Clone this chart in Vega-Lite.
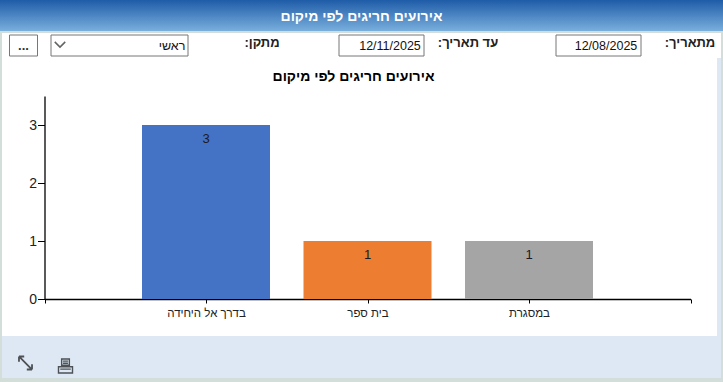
{"$schema":"https://vega.github.io/schema/vega-lite/v6.json","background":"#d3dedb","padding":{"left":0,"right":0,"top":0,"bottom":4},"autosize":{"type":"pad"},"config":{"view":{"stroke":null},"font":"Liberation Sans","concat":{"spacing":0}},"spacing":0,"vconcat":[{"width":723,"height":33,"view":{"fill":{"gradient":"linear","x1":0,"y1":0,"x2":0,"y2":1,"stops":[{"offset":0,"color":"#1f5ca8"},{"offset":0.93,"color":"#78aedc"},{"offset":0.94,"color":"#d3dedb"},{"offset":1,"color":"#d3dedb"}]}},"data":{"values":[{"heading":"אירועים חריגים לפי מיקום"}]},"mark":{"type":"text","color":"#ffffff","fontWeight":"bold","fontSize":14,"yOffset":0},"encoding":{"text":{"field":"heading"}}},{"spacing":1,"hconcat":[{"width":1,"height":1,"data":{"values":[{"n":"edge"}]},"mark":{"type":"rect","opacity":0}},{"spacing":0,"vconcat":[{"width":719,"height":25,"view":{"fill":"#ffffff"},"data":{"values":[{"control":"dots","order":1,"label":"..."},{"control":"chevron","order":2,"label":""},{"control":"combo","order":3,"label":""},{"control":"value","order":4,"label":"ראשי"},{"control":"siteLabel","order":5,"label":"מתקן:‏"},{"control":"toBox","order":6,"label":""},{"control":"toText","order":7,"label":"12/11/2025"},{"control":"toLabel","order":8,"label":"עד תאריך:‏"},{"control":"fromBox","order":9,"label":""},{"control":"fromText","order":10,"label":"12/08/2025"},{"control":"fromLabel","order":11,"label":"מתאריך:‏"}]},"encoding":{"x":{"field":"order","type":"quantitative","axis":null,"scale":{"domain":[1,2,3,4,5,6,7,8,9,10,11],"range":[21.5,58,117.5,169,260,379.5,387,466,596.5,603,688],"nice":false,"zero":false}}},"layer":[{"transform":[{"filter":"datum.control=='dots'"}],"mark":{"type":"rect","width":28,"height":21,"fill":"#ffffff","stroke":"#777777","yOffset":12.5}},{"transform":[{"filter":"datum.control=='combo'"}],"mark":{"type":"rect","width":137,"height":21,"fill":"#ffffff","stroke":"#777777","yOffset":12.5}},{"transform":[{"filter":"datum.control=='toBox'||datum.control=='fromBox'"}],"mark":{"type":"rect","width":85,"height":21,"fill":"#ffffff","stroke":"#777777","yOffset":12.5}},{"transform":[{"filter":"datum.control=='chevron'"}],"mark":{"type":"point","shape":"M-1,-0.5L0,0.5L1,-0.5","size":110,"stroke":"#222222","strokeWidth":1.5,"filled":false,"yOffset":-1}},{"transform":[{"filter":"datum.control=='dots'"}],"mark":{"type":"text","fontSize":13,"fontWeight":"bold","color":"#333333"},"encoding":{"text":{"field":"label"}}},{"transform":[{"filter":"datum.control=='value'||datum.control=='toText'||datum.control=='fromText'"}],"mark":{"type":"text","fontSize":12.5,"color":"#111111","xOffset":1},"encoding":{"text":{"field":"label"}}},{"transform":[{"filter":"indexof(['siteLabel','toLabel','fromLabel'],datum.control)>=0"}],"mark":{"type":"text","fontSize":13,"fontWeight":"bold","color":"#222222","yOffset":-3},"encoding":{"text":{"field":"label"}}}]},{"spacing":0,"hconcat":[{"spacing":0,"vconcat":[{"width":715,"height":37,"view":{"fill":"#ffffff"},"data":{"values":[{"heading":"אירועים חריגים לפי מיקום"}]},"mark":{"type":"text","color":"#000000","fontWeight":"bold","fontSize":14,"xOffset":-6},"encoding":{"text":{"field":"heading"}}},{"width":715,"height":241,"view":{"fill":"#ffffff"},"data":{"values":[{"place":"בדרך אל היחידה","events":3},{"place":"בית ספר","events":1},{"place":"במסגרת","events":1}]},"encoding":{"x":{"field":"place","type":"nominal","scale":{"type":"point","padding":0,"domain":[" ","בדרך אל היחידה","בית ספר","במסגרת","  "],"range":[42.5,688.5]},"axis":{"title":null,"labelAngle":0,"labelFontSize":11.5,"labelColor":"#222222","domainColor":"#000000","tickColor":"#000000","tickSize":4,"labelPadding":4,"offset":-37,"grid":false,"domainWidth":1.3}},"y":{"field":"events","type":"quantitative","scale":{"domain":[0,3.5],"range":[204,1],"nice":false},"axis":{"title":null,"values":[0,1,2,3],"format":"d","labelFontSize":14,"labelColor":"#222222","domainColor":"#000000","tickColor":"#000000","tickSize":7,"labelPadding":1,"offset":-42.5,"grid":false,"domainWidth":1.3}}},"layer":[{"mark":{"type":"bar","size":128},"encoding":{"color":{"field":"place","type":"nominal","legend":null,"scale":{"domain":["בדרך אל היחידה","בית ספר","במסגרת"],"range":["#4472c4","#ed7d31","#a5a5a5"]}}}},{"mark":{"type":"text","fontSize":13,"color":"#1a1a2a","baseline":"middle","dy":14},"encoding":{"text":{"field":"events","type":"quantitative"}}}]}]},{"width":4,"height":278,"view":{"fill":"#dde8f4"},"data":{"values":[{"n":"strip"}]},"mark":{"type":"rect","opacity":0}}]},{"width":719,"height":42,"view":{"fill":"#dde8f4"},"data":{"values":[{"tool":"resize"},{"tool":"print"}]},"encoding":{"x":{"field":"tool","type":"nominal","axis":null,"scale":{"type":"point","padding":0,"domain":["resize","print"],"range":[23.5,63.5]}}},"layer":[{"transform":[{"filter":"datum.tool=='resize'"}],"mark":{"type":"point","shape":"M-1,-1L1,1M-1,-1L-1,-0.2M-1,-1L-0.2,-1M1,1L1,0.2M1,1L0.2,1","size":170,"stroke":"#111111","strokeWidth":1.8,"filled":false,"yOffset":6}},{"transform":[{"filter":"datum.tool=='print'"}],"mark":{"type":"point","shape":"M-0.55,-1H0.55V-0.1H-0.55ZM-0.35,-0.7H0.35M-0.35,-0.4H0.35M-1,0.1H1V1H-1ZM-0.75,0.45H0.75","size":196,"stroke":"#111111","strokeWidth":1.4,"filled":false,"yOffset":9}}]}]},{"width":1,"height":1,"data":{"values":[{"n":"edge"}]},"mark":{"type":"rect","opacity":0}}]}]}
